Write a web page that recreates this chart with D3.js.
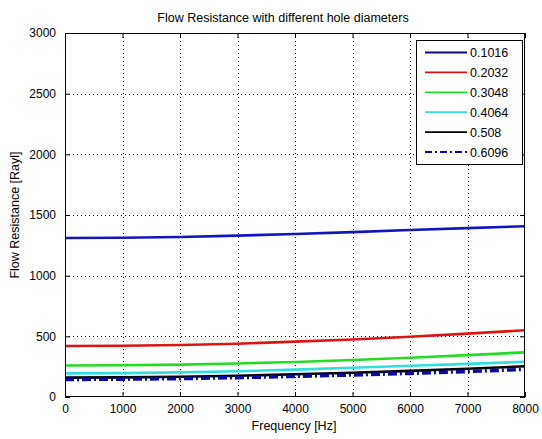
<!DOCTYPE html>
<html>
<head>
<meta charset="utf-8">
<script src="https://cdn.jsdelivr.net/npm/d3@7"></script>
<style>
  html, body { margin: 0; padding: 0; background: #fff; }
  svg { display: block; font-family: "Liberation Sans", Arial, sans-serif; }
</style>
</head>
<body>
<svg id="chart" width="542" height="439"></svg>
<script>
// Frequency samples (Hz)
const frequency = [0, 1000, 2000, 3000, 4000, 5000, 6000, 7000, 8000];

// Hole diameters shown in the legend
const diameters = ["0.1016", "0.2032", "0.3048", "0.4064", "0.508", "0.6096"];

// Flow resistance [Rayl] for each hole diameter
const r01016 = [1310, 1313, 1319, 1330, 1344, 1359, 1376, 1392, 1407];
const r02032 = [420, 422, 428, 439, 456, 474, 497, 522, 550];
const r03048 = [260, 262, 267, 276, 289, 305, 324, 345, 368];
const r04064 = [195, 197, 203, 212, 226, 241, 257, 273, 290];
const r0508  = [160, 162, 167, 175, 187, 200, 215, 233, 253];
const r06096 = [145, 147, 152, 160, 170, 182, 195, 210, 228];

const xTicks = [0, 1000, 2000, 3000, 4000, 5000, 6000, 7000, 8000];
const yTicks = [0, 500, 1000, 1500, 2000, 2500, 3000];

const seriesValues = [r01016, r02032, r03048, r04064, r0508, r06096];
const colors = ["#1414bc", "#dc1414", "#22dc22", "#30dede", "#000000", "#0a0aa8"];
const dashes = [null, null, null, null, null, "9,3,2,3"];
const widths = [2.6, 2.6, 2.6, 2.6, 2.6, 3.6];

const svg = d3.select("#chart");
const plotL = 65, plotR = 525, plotT = 33, plotB = 397;

const x = d3.scaleLinear().domain([0, 8000]).range([plotL, plotR]);
const y = d3.scaleLinear().domain([0, 3000]).range([plotB, plotT]);

// Grid
const grid = svg.append("g").attr("stroke", "#000").attr("stroke-width", 1)
  .attr("stroke-dasharray", "1,3").attr("shape-rendering", "crispEdges");
xTicks.slice(1, -1).forEach(t => {
  grid.append("line").attr("x1", Math.round(x(t)) + 0.5).attr("x2", Math.round(x(t)) + 0.5)
    .attr("y1", plotT).attr("y2", plotB);
});
yTicks.slice(1, -1).forEach(t => {
  grid.append("line").attr("y1", Math.round(y(t)) + 0.5).attr("y2", Math.round(y(t)) + 0.5)
    .attr("x1", plotL).attr("x2", plotR);
});

// Curves
const line = d3.line().x((d, i) => x(frequency[i])).y(d => y(d));
seriesValues.forEach((vals, i) => {
  svg.append("path").datum(vals).attr("d", line)
    .attr("fill", "none").attr("stroke", colors[i]).attr("stroke-width", widths[i])
    .attr("stroke-dasharray", dashes[i]);
});

// Axes (ticks on all four sides, pointing inward)
const tickFont = "12px";
const xAxis = svg.append("g").attr("transform", `translate(0,${plotB})`)
  .call(d3.axisBottom(x).tickValues(xTicks).tickSize(-5).tickPadding(7).tickFormat(d3.format("d")));
const xAxisTop = svg.append("g").attr("transform", `translate(0,${plotT})`)
  .call(d3.axisTop(x).tickValues(xTicks).tickSize(-5).tickFormat(""));
const yAxis = svg.append("g").attr("transform", `translate(${plotL},0)`)
  .call(d3.axisLeft(y).tickValues(yTicks).tickSize(-5).tickPadding(9).tickFormat(d3.format("d")));
const yAxisRight = svg.append("g").attr("transform", `translate(${plotR},0)`)
  .call(d3.axisRight(y).tickValues(yTicks).tickSize(-5).tickFormat(""));
[xAxis, xAxisTop, yAxis, yAxisRight].forEach(a => {
  a.select(".domain").remove();
  a.selectAll("line").attr("stroke", "#000");
  a.selectAll("text").attr("font-size", tickFont).attr("fill", "#000")
    .attr("font-family", "Liberation Sans, Arial, sans-serif");
});

// Plot box
svg.append("rect").attr("x", plotL + 0.5).attr("y", plotT + 0.5)
  .attr("width", plotR - plotL - 1).attr("height", plotB - plotT - 1)
  .attr("fill", "none").attr("stroke", "#000").attr("stroke-width", 1);

// Title and axis labels
svg.append("text").attr("x", 283).attr("y", 22).attr("text-anchor", "middle")
  .attr("font-size", "12.5px").text("Flow Resistance with different hole diameters");
svg.append("text").attr("x", 294).attr("y", 430).attr("text-anchor", "middle")
  .attr("font-size", "12.5px").text("Frequency [Hz]");
svg.append("text").attr("transform", `translate(19,${(plotT + plotB) / 2}) rotate(-90)`)
  .attr("text-anchor", "middle").attr("font-size", "12.5px").text("Flow Resistance [Rayl]");

// Legend
const lg = svg.append("g");
lg.append("rect").attr("x", 416.5).attr("y", 40.5).attr("width", 106).attr("height", 124)
  .attr("fill", "#fff").attr("stroke", "#000");
diameters.forEach((d, i) => {
  const cy = 52.5 + i * 19.9;
  lg.append("line").attr("x1", 425).attr("x2", 467).attr("y1", cy).attr("y2", cy)
    .attr("stroke", i === 0 ? "#0a0a80" : colors[i]).attr("stroke-width", i === 5 ? 2.2 : 1.8)
    .attr("stroke-dasharray", i === 5 ? "7,3,2,3" : null);
  lg.append("text").attr("x", 470).attr("y", cy + 4.5).attr("font-size", "12.5px").text(d);
});
</script>
</body>
</html>
